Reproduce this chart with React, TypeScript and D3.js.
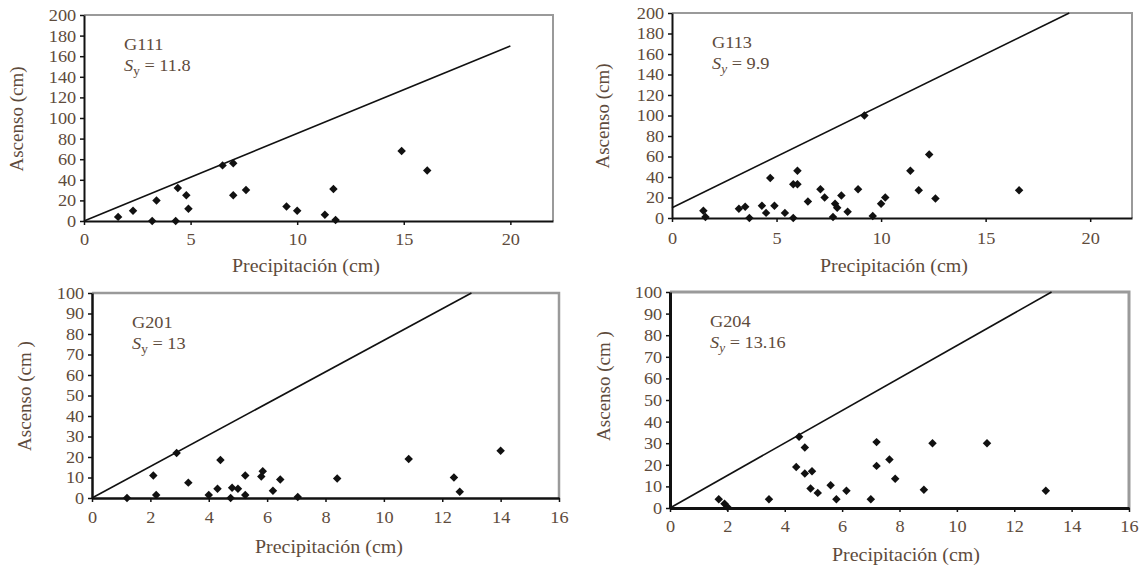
import React, { useEffect, useRef } from "react";
import * as d3 from "d3";

// G111
const g111Precip = [1.6, 2.3, 3.2, 3.4, 4.3, 4.4, 4.8, 4.9, 6.5, 7.0, 7.0, 7.6, 9.5, 10.0, 11.3, 11.7, 11.8, 14.9, 16.1];
const g111Ascenso = [4, 10, 0, 20, 0, 32, 25, 12, 54, 56, 25, 30, 14, 10, 6, 31, 1, 68, 49];
const g111Line = [[0, 0], [20, 170]];

// G113
const g113Precip = [1.5, 1.6, 3.2, 3.5, 3.7, 4.3, 4.5, 4.7, 4.9, 5.4, 5.8, 5.8, 6.0, 6.0, 6.5, 7.1, 7.3, 7.7, 7.8, 7.9, 8.1, 8.4, 8.9, 9.2, 9.6, 10.0, 10.2, 11.4, 11.8, 12.3, 12.6, 16.6];
const g113Ascenso = [7, 1, 9, 11, 0, 12, 5, 39, 12, 5, 0, 33, 33, 46, 16, 28, 20, 1, 14, 10, 22, 6, 28, 100, 2, 14, 20, 46, 27, 62, 19, 27];
const g113Line = [[0, 10], [19, 200]];

// G201
const g201Precip = [1.2, 2.1, 2.2, 2.9, 3.3, 4.0, 4.3, 4.4, 4.75, 4.8, 5.0, 5.25, 5.25, 5.8, 5.85, 6.2, 6.45, 7.05, 8.4, 10.85, 12.4, 12.6, 14.0];
const g201Ascenso = [0, 11, 1.5, 22, 7.5, 1.5, 4.5, 18.5, 0, 5, 4.5, 11, 1.5, 10.5, 13, 3.5, 9, 0.5, 9.5, 19, 10, 3, 23];
const g201Line = [[0, 0], [13, 100]];

// G204
const g204Precip = [1.7, 1.9, 2.0, 3.45, 4.4, 4.5, 4.7, 4.7, 4.95, 4.9, 5.15, 5.6, 5.8, 6.15, 7.0, 7.2, 7.2, 7.65, 7.85, 8.85, 9.15, 11.05, 13.1];
const g204Ascenso = [4, 2, 0.5, 4, 19, 33, 28, 16, 17, 9, 7, 10.5, 4, 8, 4, 30.5, 19.5, 22.5, 13.5, 8.5, 30, 30, 8];
const g204Line = [[0, 0], [13.3, 100]];

const xTicksTop = [0, 5, 10, 15, 20];
const yTicksTop = [0, 20, 40, 60, 80, 100, 120, 140, 160, 180, 200];
const xTicksBottom = [0, 2, 4, 6, 8, 10, 12, 14, 16];
const yTicksBottom = [0, 10, 20, 30, 40, 50, 60, 70, 80, 90, 100];

const panels = [
  { name: "G111", sy: "11.8", yIt: false, px: g111Precip, py: g111Ascenso, line: g111Line,
    xMax: 22, yMax: 200, xTicks: xTicksTop, yTicks: yTicksTop, yTitle: "Ascenso (cm)",
    box: [84, 553, 15, 221], yTitlePos: [19, 119], xTitlePos: [306, 268], axisW: 2, tickLabelDy: 20 },
  { name: "G113", sy: "9.9", yIt: true, px: g113Precip, py: g113Ascenso, line: g113Line,
    xMax: 22, yMax: 200, xTicks: xTicksTop, yTicks: yTicksTop, yTitle: "Ascenso (cm)",
    box: [672, 1132, 13, 218], yTitlePos: [605, 116], xTitlePos: [894, 268], axisW: 2, tickLabelDy: 22 },
  { name: "G201", sy: "13", yIt: false, px: g201Precip, py: g201Ascenso, line: g201Line,
    xMax: 16, yMax: 100, xTicks: xTicksBottom, yTicks: yTicksBottom, yTitle: "Ascenso (cm )",
    box: [92, 559, 293, 498], yTitlePos: [27, 396], xTitlePos: [329, 549], axisW: 2.5, tickLabelDy: 21 },
  { name: "G204", sy: "13.16", yIt: true, px: g204Precip, py: g204Ascenso, line: g204Line,
    xMax: 16, yMax: 100, xTicks: xTicksBottom, yTicks: yTicksBottom, yTitle: "Ascenso (cm )",
    box: [670, 1129, 292, 508], yTitlePos: [606, 386], xTitlePos: [906, 557], axisW: 3, tickLabelDy: 20 },
];

const font = "Liberation Serif, DejaVu Serif, serif";
const textColor = "#5e4b3c";
// the scanned figure is a little stretched sideways, so horizontal text is widened too
const stretch = 1.11;

export default function App() {
  const ref = useRef<SVGSVGElement | null>(null);

  useEffect(() => {
    const svg = d3.select(ref.current);
    svg.selectAll("*").remove();

    panels.forEach(p => {
      const [x0, x1, y0, y1] = p.box;
      const x = d3.scaleLinear().domain([0, p.xMax]).range([x0, x1]);
      const y = d3.scaleLinear().domain([0, p.yMax]).range([y1, y0]);
      const g = svg.append("g").attr("font-family", font);

      // frame (top + right, grey)
      g.append("path")
        .attr("d", `M${x0},${y0}H${x1}V${y1}`)
        .attr("fill", "none")
        .attr("stroke", "#9a9a9a")
        .attr("stroke-width", p.axisW);

      // limit line
      g.append("line")
        .attr("x1", x(p.line[0][0])).attr("y1", y(p.line[0][1]))
        .attr("x2", x(p.line[1][0])).attr("y2", y(p.line[1][1]))
        .attr("stroke", "#111")
        .attr("stroke-width", 1.6);

      // points
      const diamond = d3.symbol().type(d3.symbolSquare).size(36);
      g.selectAll("path.pt")
        .data(p.px.map((v, i) => [v, p.py[i]]))
        .enter()
        .append("path")
        .attr("class", "pt")
        .attr("d", diamond)
        .attr("transform", d => `translate(${x(d[0])},${y(d[1])}) rotate(45)`)
        .attr("fill", "#111");

      // axes
      const xAxis = d3.axisBottom(x).tickValues(p.xTicks).tickSize(4).tickSizeOuter(0).tickPadding(6);
      const xg = g.append("g").attr("transform", `translate(0,${y1})`).call(xAxis);
      const yAxis = d3.axisLeft(y).tickValues(p.yTicks).tickSize(4).tickSizeOuter(0).tickPadding(3);
      const yg = g.append("g").attr("transform", `translate(${x0},0)`).call(yAxis);

      [xg, yg].forEach(a => {
        a.attr("font-family", font).attr("font-size", 16.5);
        a.select(".domain").attr("stroke", "#111").attr("stroke-width", p.axisW);
        a.selectAll(".tick line").attr("stroke", "#111").attr("stroke-width", 1.5);
        a.selectAll(".tick text").attr("fill", textColor).attr("transform", `scale(${stretch},1)`);
      });
      xg.selectAll(".tick text").attr("dy", null).attr("y", p.tickLabelDy).attr("dominant-baseline", "middle");
      yg.selectAll(".tick text").attr("dy", "0.33em");

      // axis titles
      g.append("text")
        .attr("transform", `translate(${p.yTitlePos[0]},${p.yTitlePos[1]}) rotate(-90)`)
        .attr("text-anchor", "middle")
        .attr("dominant-baseline", "middle")
        .attr("fill", textColor)
        .attr("font-size", 19)
        .text(p.yTitle);

      g.append("text")
        .attr("transform", `translate(${p.xTitlePos[0]},${p.xTitlePos[1]}) scale(${stretch},1)`)
        .attr("text-anchor", "middle")
        .attr("dominant-baseline", "middle")
        .attr("fill", textColor)
        .attr("font-size", 18)
        .text("Precipitación (cm)");

      // labels in the corner
      g.append("text")
        .attr("transform", `translate(${x0 + 40},${y0 + 35}) scale(${stretch},1)`)
        .attr("fill", textColor)
        .attr("font-size", 16.5)
        .text(p.name);

      const sy = g.append("text")
        .attr("transform", `translate(${x0 + 40},${y0 + 56}) scale(${stretch},1)`)
        .attr("fill", textColor)
        .attr("font-size", 16.5);
      sy.append("tspan").attr("font-style", "italic").text("S");
      sy.append("tspan")
        .attr("dy", 4)
        .attr("font-size", 12)
        .attr("font-style", p.yIt ? "italic" : "normal")
        .text("y");
      sy.append("tspan").attr("dy", -4).text(` = ${p.sy}`);
    });
  }, []);

  return (
    <div>
      <svg ref={ref} width={1142} height={569} style={{ position: "absolute", left: 0, top: 0, background: "#fff" }} />
    </div>
  );
}
